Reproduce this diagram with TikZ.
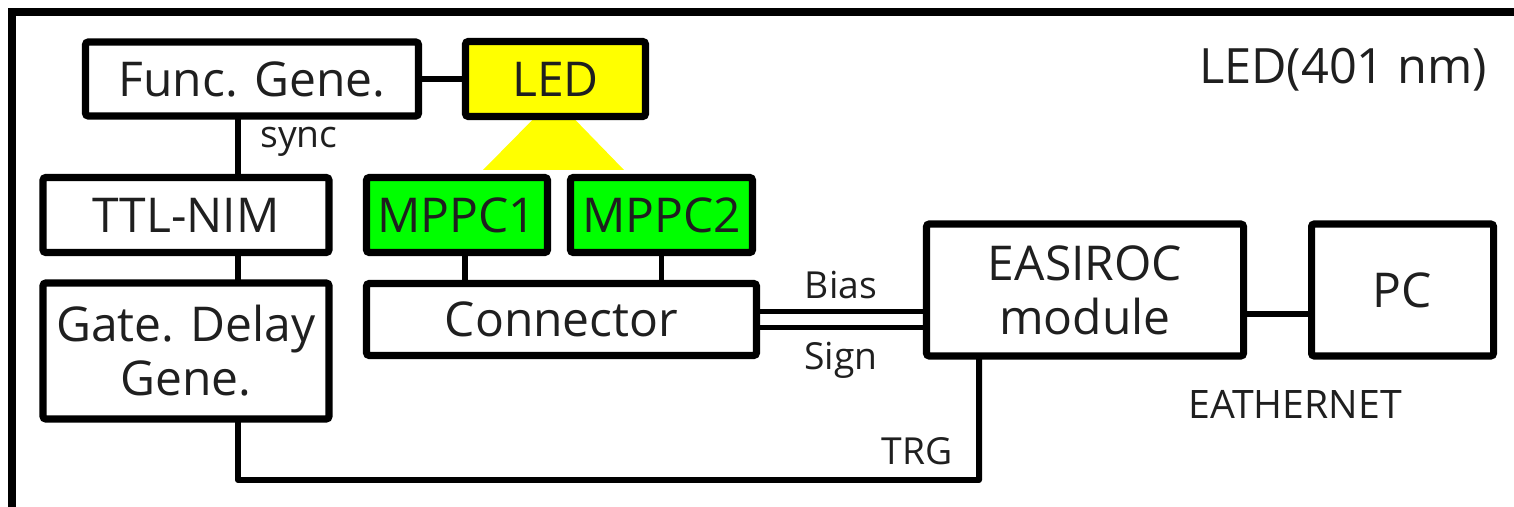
\documentclass[tikz,border=0pt]{standalone}
\usepackage{fontspec}
\setmainfont{Open Sans}
\usetikzlibrary{positioning}
\definecolor{ledyellow}{RGB}{255,255,0}
\definecolor{mppcgreen}{RGB}{0,255,0}

\begin{document}
\begin{tikzpicture}[
    every node/.style={font=\fontsize{27.3}{30.7}\selectfont, text=black!88},
    unit/.style={rectangle, draw=black, line width=4pt, rounded corners=1.5pt, align=center, inner sep=0pt, outer sep=0pt},
    wire/.style={line width=3.4pt},
    lbl/.style={font=\fontsize{21.2}{24}\selectfont, inner sep=0pt}
]
\clip (0,0) rectangle (30.28,-10.14);
\draw[line width=4pt] (0.24,-0.24) rectangle (31,-11);
\fill[ledyellow] (11.08,-1.96) -- (9.66,-3.40) -- (12.48,-3.40) -- cycle;
\node[unit, minimum width=6.66cm, minimum height=1.48cm] (func) at (5.04,-1.58) {Func. Gene.};
\node[unit, fill=ledyellow, minimum width=3.6cm, minimum height=1.5cm, right=0.94cm of func] (led) {LED};
\node[unit, minimum width=5.72cm, minimum height=1.5cm] (ttl) at (3.72,-4.30) {TTL-NIM};
\node[unit, minimum width=5.72cm, minimum height=2.72cm, below=0.61cm of ttl] (gate) {Gate. Delay\\Gene.};
\node[unit, fill=mppcgreen, minimum width=3.62cm, minimum height=1.5cm] (mppc1) at (9.14,-4.30) {MPPC1};
\node[unit, fill=mppcgreen, minimum width=3.64cm, minimum height=1.5cm, right=0.46cm of mppc1] (mppc2) {MPPC2};
\node[unit, anchor=north west, minimum width=7.8cm, minimum height=1.44cm] (conn) at ([yshift=-0.62cm]mppc1.south west) {Connector};
\node[unit, minimum width=6.34cm, minimum height=2.64cm] (easiroc) at (21.70,-5.80) {EASIROC\\module};
\node[unit, minimum width=3.64cm, minimum height=2.64cm, right=1.36cm of easiroc] (pc) {PC};
\coordinate (trgbend) at (4.76,-9.60);
\draw[wire] (func) -- (led);
\draw[wire] ([xshift=1.04cm]ttl.north) -- ([xshift=1.04cm]ttl.north |- func.south);
\draw[wire] ([xshift=1.04cm]ttl.south) -- ([xshift=1.04cm]gate.north);
\draw[wire] ([xshift=0.16cm]mppc1.south) -- ([xshift=0.16cm]mppc1.south |- conn.north);
\draw[wire] (mppc2.south) -- (mppc2.south |- conn.north);
\draw[wire] ([yshift=0.16cm]conn.east) -- ([yshift=0.16cm]conn.east -| easiroc.west);
\draw[wire] ([yshift=-0.16cm]conn.east) -- ([yshift=-0.16cm]conn.east -| easiroc.west);
\draw[wire] ([yshift=-0.48cm]easiroc.east) -- ([yshift=-0.48cm]easiroc.east -| pc.west);
\draw[wire, line join=round] ([xshift=1.04cm]gate.south) -- (trgbend) -| ([xshift=-2.12cm]easiroc.south);
\node[lbl] (sync) at (5.98,-2.84) {sync};
\node[lbl] (bias) at (16.82,-5.70) {Bias};
\node[lbl] (sign) at (16.82,-7.20) {Sign};
\node[lbl] (trg) at (18.34,-9.02) {TRG};
\node[lbl, font=\fontsize{22.3}{26}\selectfont] (ether) at (25.90,-8.08) {EATHERNET};
\node[lbl, font=\fontsize{27.7}{32}\selectfont] (ledinfo) at (26.86,-1.40) {LED(401 nm)};
\end{tikzpicture}
\end{document}
